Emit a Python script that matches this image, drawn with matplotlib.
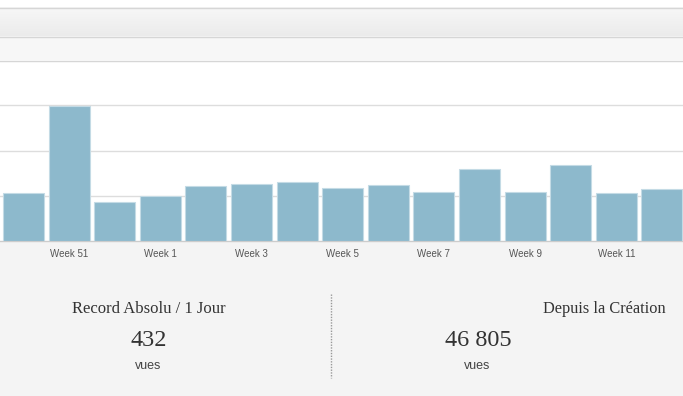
import matplotlib
matplotlib.use("Agg")
import matplotlib.pyplot as plt
import numpy as np
from matplotlib.patches import Rectangle
from matplotlib.lines import Line2D
from matplotlib.colors import LinearSegmentedColormap

# ---- data ----
weeks = ["Week 50", "Week 51", "Week 52", "Week 1", "Week 2", "Week 3", "Week 4",
         "Week 5", "Week 6", "Week 7", "Week 8", "Week 9", "Week 10", "Week 11", "Week 12"]
views = [533, 1489, 433, 500, 611, 633, 656, 589, 622, 544, 800, 544, 844, 533, 578]
shown_labels = ["Week 51", "Week 1", "Week 3", "Week 5", "Week 7", "Week 9", "Week 11"]
record_title = "Record Absolu / 1 Jour"
record_value = "432"
total_title = "Depuis la Création"
total_value = "46 805"
unit = "vues"

W, H = 683, 396
fig = plt.figure(figsize=(W / 100, H / 100), dpi=100)
fig.patch.set_facecolor("white")

def fy(py):
    return 1 - py / H

def fx(px):
    return px / W

# bottom grey panel
fig.patches.append(Rectangle((0, 0), 1, fy(241), transform=fig.transFigure,
                             facecolor="#f4f4f4", edgecolor="none", zorder=-2))

# header gradient band
hax = fig.add_axes([0, fy(36), 1, fy(7) - fy(36)], zorder=-1)
grad = np.linspace(0, 1, 50).reshape(-1, 1)
cm = LinearSegmentedColormap.from_list("g", ["#f7f7f7", "#ebebeb"])
hax.imshow(grad, aspect="auto", cmap=cm, extent=[0, 1, 0, 1], origin="upper")
hax.axis("off")
# second band
fig.patches.append(Rectangle((0, fy(60)), 1, fy(36) - fy(60), transform=fig.transFigure,
                             facecolor="#f7f7f7", edgecolor="none", zorder=-2))
for py in [7, 36, 60]:
    fig.lines.append(Line2D([0, 1], [fy(py + 0.5)] * 2, transform=fig.transFigure,
                            color="#d6d6d6", lw=1.0, zorder=5))

# chart axes
ax = fig.add_axes([0, fy(241), 1, fy(60) - fy(241)], zorder=1)
ax.set_facecolor("none")
pitch = 45.6
x = np.arange(len(weeks))
ax.bar(x, views, width=41 / pitch, color="#8db9cc", edgecolor="#c4dbe5",
       linewidth=0.8, zorder=3)
ax.set_xlim(-23.5 / pitch, (W - 23.5) / pitch)
ax.set_ylim(0, 2000)
ax.set_yticks([500, 1000, 1500])
ax.yaxis.grid(True, color="#dddddd", lw=1.0, zorder=0)
ax.tick_params(axis="y", left=False, labelleft=False)
for s in ["left", "right", "top"]:
    ax.spines[s].set_visible(False)
ax.spines["bottom"].set_color("#cccccc")
ax.spines["bottom"].set_linewidth(1.0)
ticks = [weeks.index(l) for l in shown_labels]
ax.set_xticks(ticks)
ax.set_xticklabels(shown_labels, fontsize=7, color="#555555", family="Liberation Sans")
ax.tick_params(axis="x", length=0, pad=6)

# stats
serif = "Liberation Serif"
fig.text(fx(149), fy(309), record_title, ha="center", va="center",
         fontsize=12, family=serif, color="#333333")
fig.text(fx(149), fy(341), record_value, ha="center", va="center",
         fontsize=17.5, family=serif, color="#333333")
fig.text(fx(148), fy(366), unit, ha="center", va="center",
         fontsize=9, family="Liberation Sans", color="#444444")

fig.text(fx(666), fy(309), total_title, ha="right", va="center",
         fontsize=11.8, family=serif, color="#333333")
fig.text(fx(478), fy(341), total_value, ha="center", va="center",
         fontsize=17.5, family=serif, color="#333333")
fig.text(fx(477), fy(366), unit, ha="center", va="center",
         fontsize=9, family="Liberation Sans", color="#444444")

fig.lines.append(Line2D([fx(330.5)] * 2, [fy(294), fy(378)], transform=fig.transFigure,
                        color="#999999", lw=1.0, linestyle=(0, (1, 1))))

fig.savefig("out.png", dpi=100)
